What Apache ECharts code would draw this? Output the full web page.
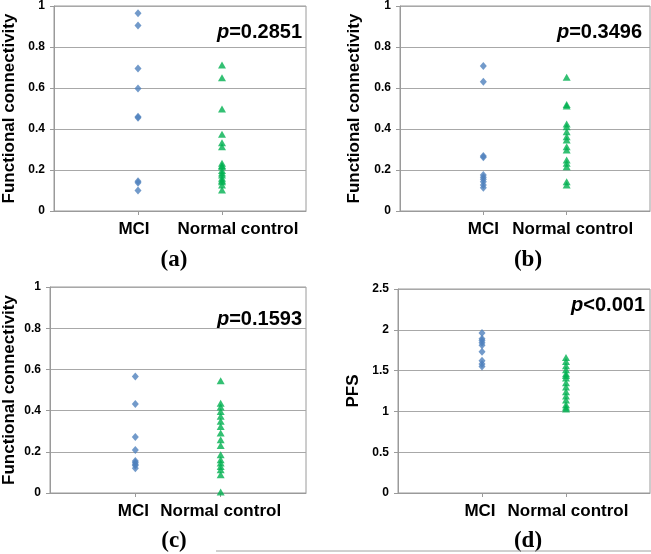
<!DOCTYPE html>
<html>
<head>
<meta charset="utf-8">
<script src="https://cdn.jsdelivr.net/npm/echarts@6/dist/echarts.min.js"></script>
<style>html,body{margin:0;padding:0;background:#fff}#c{width:651px;height:554px}</style>
</head>
<body>
<div id="c"></div>
<script>
// ---- data ----
const categories = ['', 'MCI', 'Normal control', ''];
const mciA = [0.965, 0.905, 0.695, 0.597, 0.46, 0.455, 0.145, 0.138, 0.1];
const ncA  = [0.712, 0.65, 0.498, 0.374, 0.333, 0.314, 0.233, 0.222, 0.216, 0.197, 0.185, 0.176, 0.16, 0.15, 0.143, 0.127, 0.102];
const mciB = [0.707, 0.631, 0.268, 0.262, 0.176, 0.165, 0.155, 0.143, 0.127, 0.114];
const ncB  = [0.652, 0.52, 0.512, 0.424, 0.411, 0.387, 0.362, 0.346, 0.314, 0.298, 0.249, 0.233, 0.216, 0.143, 0.127];
const mciC = [0.566, 0.432, 0.272, 0.209, 0.155, 0.148, 0.14, 0.133, 0.12];
const ncC  = [0.545, 0.436, 0.417, 0.396, 0.372, 0.348, 0.323, 0.291, 0.259, 0.23, 0.186, 0.162, 0.146, 0.129, 0.113, 0.089, 0.005];
const mciD = [1.96, 1.89, 1.87, 1.84, 1.81, 1.73, 1.62, 1.58, 1.55];
const ncD  = [1.66, 1.61, 1.56, 1.51, 1.46, 1.44, 1.41, 1.35, 1.30, 1.24, 1.19, 1.14, 1.08, 1.05, 1.03];
const yNames = ['Functional connectivity', 'Functional connectivity', 'Functional connectivity', 'PFS'];
const yMax = [1, 1, 1, 2.5];
const yStep = [0.2, 0.2, 0.2, 0.5];
const pOps = ['=', '=', '=', '<'];
const pVals = ['0.2851', '0.3496', '0.1593', '0.001'];
const panelLabels = ['(a)', '(b)', '(c)', '(d)'];

// ---- layout ----
const grids = [
  {left: 53, top: 6, width: 253, height: 205},
  {left: 400, top: 5, width: 250, height: 206},
  {left: 50, top: 287, width: 256, height: 206},
  {left: 398, top: 289, width: 252, height: 204}
];
const nameGaps = [36, 37, 32, 36];
const ncOffset = [16, 6, 0, 2];
const mciOffset = [-4, 0, -2, -2];
const pPos = [[302, 32], [642, 32], [302, 319], [645, 305]];
const labPos = [[174, 260], [528, 260], [174, 541], [528, 541]];

const mciSets = [mciA, mciB, mciC, mciD];
const ncSets = [ncA, ncB, ncC, ncD];
const gray = '#9a9a9a';
const BLUE = '#4F81BD', GREEN = '#00B050';
const showIdx = (i) => i === 1 || i === 2;

const xAxes = [], yAxes = [], series = [], graphics = [];
for (let k = 0; k < 4; k++) {
  const lab = {fontFamily: 'Liberation Sans', fontWeight: 'bold', fontSize: 17, color: '#000'};
  xAxes.push({
    gridIndex: k, type: 'category', data: categories, boundaryGap: false,
    axisLine: {lineStyle: {color: gray}},
    axisTick: {interval: showIdx, length: 4, lineStyle: {color: gray}},
    axisLabel: {
      interval: showIdx, margin: 10,
      formatter: (v) => v === 'MCI' ? '{m|MCI}' : (v === 'Normal control' ? '{n|Normal control}' : ''),
      rich: {
        m: Object.assign({padding: mciOffset[k] >= 0 ? [0,0,0,2*mciOffset[k]] : [0,-2*mciOffset[k],0,0]}, lab),
        n: Object.assign({padding: ncOffset[k] >= 0 ? [0,0,0,2*ncOffset[k]] : [0,-2*ncOffset[k],0,0]}, lab)
      }
    },
    splitLine: {show: false}
  });
  yAxes.push({
    gridIndex: k, type: 'value', min: 0, max: yMax[k], interval: yStep[k],
    name: yNames[k], nameLocation: 'middle', nameRotate: 90, nameGap: nameGaps[k],
    nameTextStyle: {fontFamily: 'Liberation Sans', fontWeight: 'bold', fontSize: 17, color: '#000'},
    axisLine: {show: true, lineStyle: {color: gray}},
    axisTick: {show: true, length: 4, lineStyle: {color: gray}},
    axisLabel: {margin: 9, fontFamily: 'Liberation Sans', fontWeight: 'bold', fontSize: 12, color: '#000'},
    splitLine: {lineStyle: {color: '#a8a8a8', width: 1}}
  });
  series.push({
    type: 'scatter', xAxisIndex: k, yAxisIndex: k, symbol: 'diamond', symbolSize: [7, 8],
    itemStyle: {color: BLUE}, data: mciSets[k].map(v => ['MCI', v]), silent: true
  });
  series.push({
    type: 'scatter', xAxisIndex: k, yAxisIndex: k, symbol: 'triangle', symbolSize: [8, 7],
    itemStyle: {color: GREEN}, data: ncSets[k].map(v => ['Normal control', v]), silent: true
  });
  graphics.push({
    type: 'text', x: pPos[k][0], y: pPos[k][1],
    style: {
      text: '{i|p}{r|' + pOps[k] + pVals[k] + '}', align: 'right', verticalAlign: 'middle',
      rich: {
        i: {fontFamily: 'Liberation Sans', fontWeight: 'bold', fontStyle: 'italic', fontSize: 20, fill: '#000'},
        r: {fontFamily: 'Liberation Sans', fontWeight: 'bold', fontSize: 20, fill: '#000'}
      }
    }
  });
  graphics.push({
    type: 'text', x: labPos[k][0], y: labPos[k][1],
    style: {text: panelLabels[k], align: 'center', verticalAlign: 'middle',
      font: 'bold 23px "Liberation Serif"', fill: '#000'}
  });
}
graphics.push({type: 'line', shape: {x1: 216, y1: 551, x2: 651, y2: 551}, style: {stroke: '#a0a0a0', lineWidth: 1}});

const chart = echarts.init(document.getElementById('c'));
chart.setOption({
  animation: false,
  backgroundColor: '#fff',
  grid: grids.map(g => Object.assign({show: true, borderColor: gray, borderWidth: 1}, g)),
  xAxis: xAxes, yAxis: yAxes, series: series, graphic: graphics
});
</script>
</body>
</html>
